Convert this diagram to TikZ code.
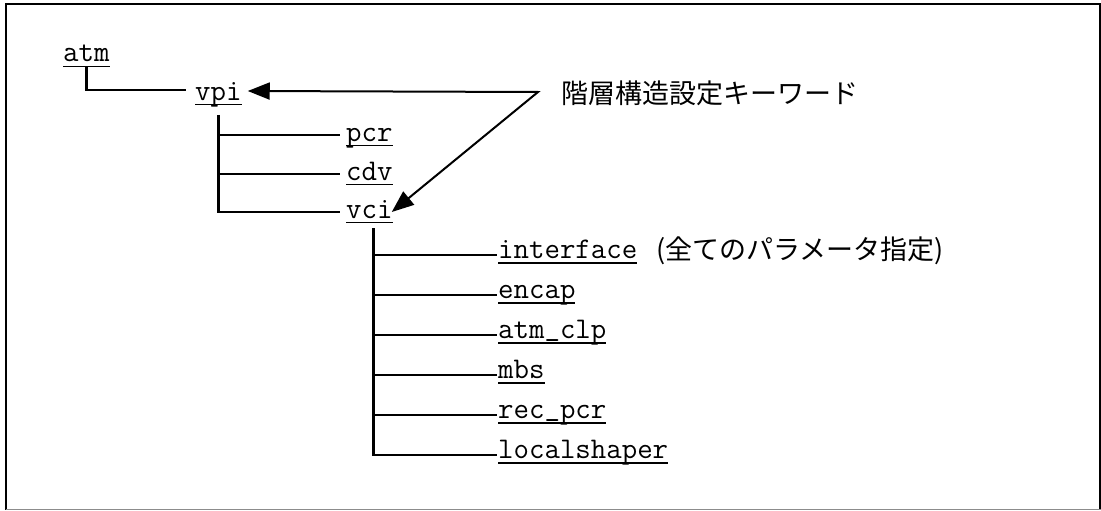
\documentclass[tikz,border=0pt]{standalone}
\usepackage{fontspec}
\newfontfamily\jpfont{Noto Sans CJK JP}
\usetikzlibrary{arrows.meta}
\newcommand\ulword[1]{\setbox0\hbox{#1}\rlap{\vrule height -3.6pt depth 5pt width \wd0}\box0}
\newcommand\usc{\raisebox{2.6pt}{\_}}
\begin{document}
\begin{tikzpicture}[x=1pt,y=-1pt,
  kw/.style={font=\ttfamily\fontsize{30}{34}\selectfont, inner sep=0pt, anchor=base west},
  jp/.style={font=\jpfont\fontsize{27}{32}\selectfont, inner sep=0pt, anchor=base west},
  tree/.style={line width=2.6pt},
  ptr/.style={line width=2pt, {Triangle[length=22pt,width=17pt]}-{Triangle[length=22pt,width=17pt]}}]
\useasboundingbox (0,0) rectangle (1101,511);
% frame
\draw[line width=2.5pt] (6.2,509.5) -- (6.2,4.2) -- (1100.5,4.2) -- (1100.5,509.5);
\draw[line width=1.2pt, black!45] (6.2,509.8) -- (1100.5,509.8);
% nodes
\node[kw] (atm) at (63,62) {\ulword{atm}};
\node[kw] (vpi) at (195,100) {\ulword{vpi}};
\node[kw] (pcr) at (346,141) {\ulword{pcr}};
\node[kw] (cdv) at (346,180) {\ulword{cdv}};
\node[kw] (vci) at (346,218) {\ulword{vci}};
\node[kw] (interface) at (498,258.5) {\ulword{interface}};
\node[kw] (encap) at (498,298.5) {\ulword{encap}};
\node[kw] (atmclp) at (498,338.5) {\ulword{atm\usc clp}};
\node[kw] (mbs) at (498,378.5) {\ulword{mbs}};
\node[kw] (recpcr) at (498,418.5) {\ulword{rec\usc pcr}};
\node[kw] (localshaper) at (498,458.5) {\ulword{localshaper}};
\node[jp] (note) at (656,259.8) {(全てのパラメータ指定)};
\node[jp] (key) at (561,103) {階層構造設定キーワード};
% tree connectors
\draw[tree] (atm.south) |- ([xshift=-9pt,yshift=10pt]vpi.base west);
\coordinate (vpiT) at ([yshift=-8pt]vpi.south);
\foreach \c in {pcr,cdv,vci} {
  \coordinate (\c L) at ([yshift=6pt]\c.base west);
}
\draw[tree] (vpiT) |- ([xshift=-6pt]vciL);
\draw[tree] (vpiT |- pcrL) -- ([xshift=-6pt]pcrL);
\draw[tree] (vpiT |- cdvL) -- ([xshift=-6pt]cdvL);
\coordinate (vciT) at ([xshift=4pt,yshift=-5pt]vci.south);
\foreach \c in {interface,encap,atmclp,mbs,recpcr,localshaper} {
  \coordinate (\c L) at ([yshift=3.5pt]\c.base west);
}
\draw[tree] (vciT) |- ([xshift=-1pt]localshaperL);
\foreach \c in {interface,encap,atmclp,mbs,recpcr} {
  \draw[tree] (vciT |- \c L) -- ([xshift=-1pt]\c L);
}
% pointer arrows
\coordinate (K) at (538,92);
\draw[ptr] ([xshift=6pt,yshift=9pt]vpi.base east) -- (K) -- ([xshift=-1pt,yshift=6pt]vci.base east);
\end{tikzpicture}
\end{document}
